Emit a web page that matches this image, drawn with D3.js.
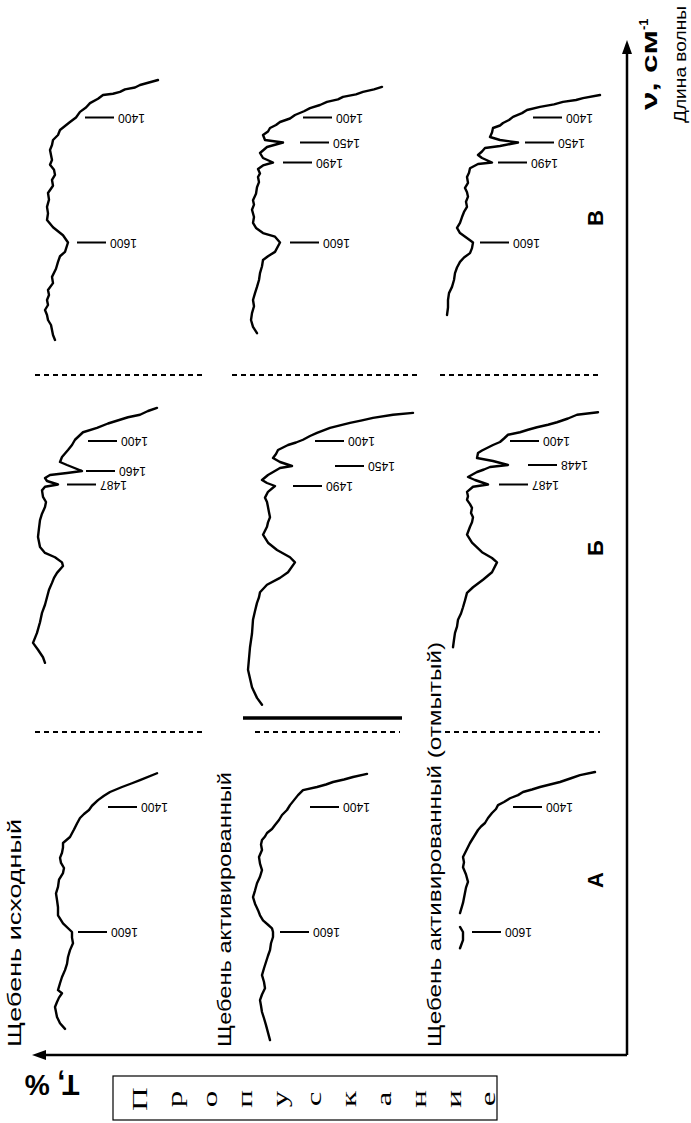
<!DOCTYPE html>
<html>
<head>
<meta charset="utf-8">
<script src="https://cdn.jsdelivr.net/npm/d3@7"></script>
<style>
  body { margin: 0; background: #fff; }
  svg { display: block; }
</style>
</head>
<body>
<svg id="chart" width="691" height="1123"></svg>
<script>
// IR transmission spectra, pairs of [wavenumber cm-1, T %]
const rowLabels = ["В", "Б", "А"];
const sampleLabels = ["Щебень исходный", "Щебень активированный", "Щебень активированный (отмытый)"];
const boxLetters = "Пропускание".split("");

const specV_raw = [[1340,11],[1348,20],[1352,22.5],[1355,27.5],[1359,30],[1362,33.5],[1364,38.5],[1370,41],[1377,45],[1384,47],[1391,50],[1400,52],[1409,55],[1417,57.5],[1425,60],[1435,61],[1445,63.5],[1455,64],[1465,65],[1475,64.5],[1485,64],[1493,65],[1500,63],[1507,62.5],[1514,64],[1522,63.5],[1532,66],[1541,65.5],[1551,66.5],[1560,66],[1569,66.5],[1579,63.5],[1590,58.5],[1600,56],[1615,57.5],[1622,60],[1631,61],[1642,62],[1655,64],[1665,63.5],[1676,66],[1684,65.5],[1692,66.5],[1700,66],[1708,67.5],[1716,66.5],[1724,66],[1732,64.5],[1740,64],[1748,63.5],[1756,62.5]];
const specV_act = [[1351,24],[1355,28],[1359,33.5],[1363,37],[1367,43.5],[1371,46],[1375,51.5],[1380,55],[1385,60],[1390,63],[1396,67.5],[1402,70],[1409,75],[1415,77],[1421,80],[1428,81],[1435,83.5],[1445,82.5],[1450,73.5],[1459,81.5],[1471,85],[1481,83.5],[1490,78.5],[1494,83.5],[1499,86],[1505,85],[1510,86],[1517,85.5],[1524,86.5],[1533,87],[1542,88.5],[1548,88],[1555,89],[1565,88],[1573,88.5],[1580,87],[1587,83.5],[1592,77.5],[1600,75],[1615,77.5],[1622,81],[1628,83.5],[1638,84],[1649,85],[1660,85.5],[1671,86.5],[1681,87.5],[1692,88.5],[1702,88],[1713,89],[1724,89.5],[1735,88.5],[1745,86.5]];
const specV_wash = [[1364,10],[1369,18.5],[1372,22],[1375,28.5],[1379,33],[1383,40],[1388,46.5],[1393,49],[1399,53.5],[1405,55.5],[1411,58.5],[1416,60],[1421,63.5],[1430,64],[1439,65],[1445,60],[1450,51],[1457,60],[1461,67.5],[1468,69],[1475,71],[1481,69],[1490,64],[1492,71],[1498,75],[1504,75.5],[1510,76.5],[1518,76],[1525,77.5],[1531,76.5],[1537,76],[1544,77],[1551,76.5],[1558,78],[1565,79],[1573,80],[1580,81.5],[1587,80],[1597,75],[1600,73.5],[1609,74],[1617,75],[1624,78],[1631,80],[1640,81.5],[1649,82.5],[1660,83],[1671,84],[1681,85.5],[1692,86],[1704,86],[1716,86.5]];

const specB_raw = [[1347,11.5],[1352,16],[1358,20],[1362,26],[1366,30],[1372,36],[1379,41.5],[1386,48.5],[1392,50.5],[1398,52.5],[1408,54],[1418,56],[1425,57.5],[1432,59],[1442,60],[1448,56.5],[1460,49],[1464,56.5],[1468,65],[1474,67.5],[1480,66.5],[1487,61],[1491,67.5],[1496,69],[1505,68.5],[1512,67],[1519,67.5],[1528,69],[1537,70],[1548,70.5],[1560,71],[1567,70.5],[1574,70],[1582,67.5],[1588,62.5],[1595,59],[1600,58.5],[1611,61.5],[1619,63],[1627,64],[1638,65.5],[1650,66.5],[1662,67.5],[1675,69],[1690,70],[1707,71.5],[1715,72.5],[1723,73.5],[1734,71],[1746,68.5],[1755,67.5]];
const specB_act = [[1355,8.5],[1358,18.5],[1363,28.5],[1367,34],[1371,40],[1375,45],[1379,50],[1387,56.5],[1392,60],[1398,63.5],[1403,67],[1408,71],[1413,73.5],[1418,76],[1426,77],[1434,78.5],[1442,75],[1450,69],[1454,75],[1461,78],[1468,81],[1478,84],[1484,81.5],[1490,77.5],[1498,81],[1506,82.5],[1512,81.5],[1519,81],[1526,80.5],[1533,80],[1540,81],[1546,81.5],[1557,83.5],[1568,81],[1578,76.5],[1588,70],[1595,67.5],[1610,71],[1619,75],[1630,81.5],[1642,85],[1650,85.5],[1659,86.5],[1672,87.5],[1686,88.5],[1708,89],[1730,90],[1748,90.5],[1766,91],[1780,90],[1794,89],[1811,86.5],[1822,84]];
const specB_wash = [[1354,11],[1358,21.5],[1364,26],[1370,31.5],[1374,36],[1378,41.5],[1382,46],[1386,50],[1390,56],[1396,58],[1402,60],[1408,63.5],[1414,66.5],[1419,69],[1424,71],[1434,71.5],[1440,63.5],[1448,56],[1452,65],[1457,68],[1462,71.5],[1472,76],[1478,72.5],[1487,66],[1491,73.5],[1498,76.5],[1504,76],[1509,76.5],[1515,75],[1520,74],[1527,74.5],[1533,73.5],[1540,74],[1546,75],[1557,76.5],[1568,74],[1581,69],[1589,64],[1595,61.5],[1610,64],[1622,68.5],[1634,73.5],[1643,76.5],[1655,77.5],[1666,78.5],[1676,79.5],[1686,81],[1697,81.5],[1707,82.5],[1718,83],[1730,83.5]];

const specA_raw = [[1346,11.5],[1357,20],[1362,24],[1368,29],[1376,35],[1382,38],[1389,41],[1398,44],[1406,45.5],[1414,48],[1422,50],[1433,51.5],[1445,53],[1460,55],[1472,58.5],[1481,58.5],[1491,59],[1498,60],[1505,59.5],[1512,58],[1519,58.5],[1528,60.5],[1538,61],[1547,62],[1556,61.5],[1566,61],[1577,61],[1588,58.5],[1600,54],[1609,54],[1618,53.5],[1629,55],[1640,56],[1651,56.5],[1661,57.5],[1672,59],[1682,60],[1693,61],[1698,59],[1705,60.5],[1712,61.5],[1720,62.5],[1728,62],[1736,61.5],[1746,60],[1755,57.5]];
const specA_act = [[1347,31.5],[1352,38.5],[1356,43],[1360,48.5],[1364,52],[1368,56.5],[1373,63.5],[1381,66],[1389,68],[1397,70],[1406,71.5],[1416,74],[1426,75.5],[1436,77.5],[1444,79],[1452,81.5],[1459,82.5],[1466,84],[1475,84.5],[1486,84],[1497,85.5],[1506,85],[1515,84],[1524,85],[1533,86.5],[1543,87.5],[1552,88.5],[1561,87.5],[1570,86],[1577,85],[1584,83.5],[1590,81],[1595,79],[1600,78.5],[1608,78.5],[1618,79.5],[1629,80],[1638,81],[1648,82],[1658,83],[1669,84],[1680,83],[1690,82.5],[1700,84],[1709,85],[1718,84.5],[1728,84],[1738,83],[1749,82],[1761,81],[1773,80]];
const specA_wash = [[1344,12.5],[1349,20],[1354,24.5],[1360,30],[1364,35],[1368,40],[1372,44],[1376,48.5],[1381,51],[1386,55],[1392,58],[1397,61],[1404,62],[1412,64],[1422,66],[1432,67.5],[1439,69.5],[1446,71],[1459,73],[1472,75],[1484,76.5],[1497,78.5],[1504,78],[1511,78.5],[1521,77],[1531,76],[1539,77],[1546,77.5],[1560,78.5],[1574,80],null,[1593,80],[1600,78.5],[1613,78.5],[1626,80]];

// band marks: [wavenumber, T level where the pointer starts]
const marksV_raw = [[1400,47.5],[1600,51.5]];
const marksV_act = [[1400,63.5],[1450,65],[1490,73.5],[1600,70]];
const marksV_wash = [[1400,43.5],[1450,47.5],[1490,61],[1600,70]];
const marksB_raw = [[1400,46],[1460,47],[1487,56.5]];
const marksB_act = [[1400,57.5],[1450,47.5],[1490,68.5]];
const marksB_wash = [[1400,55],[1448,46],[1487,60.5]];
const marksA_raw = [[1400,36],[1600,51]];
const marksA_act = [[1400,60],[1600,75]];
const marksA_wash = [[1400,53.5],[1600,74]];

// chart paper uses a piecewise wavenumber scale
const wnStops = [1300, 1400, 1490, 1600, 1900];

// ---------- layout ----------
const ink = "#000";
const sans = "'Liberation Sans', Arial, sans-serif";
const serif = "'Liberation Serif', 'Times New Roman', serif";
const wnOffsets = [-62.5, 0, 45, 125, 312.5];
const rowAnchor = { "В": 117.5, "Б": 441, "А": 807 };
const colZero = [180, 430, 620];
const pxPerT = 2;

const svg = d3.select("#chart");

function yScaleFor(row) {
  const y0 = rowAnchor[row];
  return d3.scaleLinear().domain(wnStops).range(wnOffsets.map(o => y0 + o));
}
function xScaleFor(col) {
  const x0 = colZero[col];
  return d3.scaleLinear().domain([0, 100]).range([x0, x0 - 100 * pxPerT]);
}

const panels = [
  { row: "В", col: 0, spectrum: specV_raw, marks: marksV_raw },
  { row: "В", col: 1, spectrum: specV_act, marks: marksV_act },
  { row: "В", col: 2, spectrum: specV_wash, marks: marksV_wash },
  { row: "Б", col: 0, spectrum: specB_raw, marks: marksB_raw },
  { row: "Б", col: 1, spectrum: specB_act, marks: marksB_act },
  { row: "Б", col: 2, spectrum: specB_wash, marks: marksB_wash },
  { row: "А", col: 0, spectrum: specA_raw, marks: marksA_raw },
  { row: "А", col: 1, spectrum: specA_act, marks: marksA_act },
  { row: "А", col: 2, spectrum: specA_wash, marks: marksA_wash }
];

const gSpec = svg.append("g");
panels.forEach(p => {
  const x = xScaleFor(p.col), y = yScaleFor(p.row);
  const line = d3.line()
    .defined(d => d !== null)
    .x(d => x(d[1]))
    .y(d => y(d[0]));
  gSpec.append("path")
    .datum(p.spectrum)
    .attr("d", line)
    .attr("fill", "none")
    .attr("stroke", ink)
    .attr("stroke-width", 2.4)
    .attr("stroke-linejoin", "round")
    .attr("stroke-linecap", "round");

  p.marks.forEach(([wn, t]) => {
    const yy = y(wn), xs = x(t);
    gSpec.append("line")
      .attr("x1", xs).attr("x2", xs + 29)
      .attr("y1", yy).attr("y2", yy)
      .attr("stroke", ink).attr("stroke-width", 2);
    gSpec.append("text")
      .attr("transform", `translate(${xs + 33},${yy}) rotate(180)`)
      .attr("text-anchor", "end")
      .attr("dominant-baseline", "central")
      .attr("font-family", sans)
      .attr("font-size", 12)
      .attr("textLength", 27)
      .attr("lengthAdjust", "spacingAndGlyphs")
      .text(wn);
  });
});

// separators between the band regions
const dash = svg.append("g")
  .attr("stroke", ink).attr("stroke-width", 1.8).attr("stroke-dasharray", "5,4");
[[35, 205, 375], [232, 420, 375], [440, 600, 375],
 [35, 205, 732], [255, 400, 732], [445, 600, 732]].forEach(([x1, x2, yy]) => {
  dash.append("line").attr("x1", x1).attr("x2", x2).attr("y1", yy).attr("y2", yy);
});
svg.append("line")
  .attr("x1", 243).attr("x2", 402).attr("y1", 718).attr("y2", 718)
  .attr("stroke", ink).attr("stroke-width", 3.5);

// axes with arrows
const axisY = 1055, axisX = 627;
svg.append("line").attr("x1", 40).attr("x2", axisX).attr("y1", axisY).attr("y2", axisY)
  .attr("stroke", ink).attr("stroke-width", 2.5);
svg.append("line").attr("x1", axisX).attr("x2", axisX).attr("y1", axisY).attr("y2", 50)
  .attr("stroke", ink).attr("stroke-width", 2.5);
svg.append("path").attr("d", `M32,${axisY} L46,${axisY - 5} L46,${axisY + 5} Z`).attr("fill", ink);
svg.append("path").attr("d", `M${axisX},40 L${axisX - 5},54 L${axisX + 5},54 Z`).attr("fill", ink);

// sample names
const sampleX = [21, 231, 441];
const sampleLen = [228, 275, 405];
sampleLabels.forEach((s, i) => {
  svg.append("text")
    .attr("transform", `translate(${sampleX[i]},1047) rotate(-90)`)
    .attr("font-family", sans)
    .attr("font-size", 18)
    .attr("textLength", sampleLen[i])
    .attr("lengthAdjust", "spacingAndGlyphs")
    .text(s);
});

// region letters
const rowLetterY = { "В": 218, "Б": 548, "А": 880 };
rowLabels.forEach(r => {
  svg.append("text")
    .attr("transform", `translate(595,${rowLetterY[r]}) rotate(-90)`)
    .attr("text-anchor", "middle")
    .attr("dominant-baseline", "central")
    .attr("font-family", sans)
    .attr("font-weight", "bold")
    .attr("font-size", 22)
    .text(r);
});

// wavenumber axis title
const nuTitle = svg.append("text")
  .attr("transform", `translate(657,110) rotate(-90)`)
  .attr("font-family", sans)
  .attr("font-weight", "bold")
  .attr("font-size", 22);
nuTitle.append("tspan").attr("textLength", 80).attr("lengthAdjust", "spacingAndGlyphs").text("ν, см");
nuTitle.append("tspan").attr("dy", -9).attr("font-size", 13).text("-1");
svg.append("text")
  .attr("transform", `translate(686,123) rotate(-90)`)
  .attr("font-family", sans)
  .attr("font-size", 17)
  .attr("textLength", 117)
  .attr("lengthAdjust", "spacingAndGlyphs")
  .text("Длина волны");

// transmission axis title
svg.append("text")
  .attr("transform", `translate(52,1085) rotate(180)`)
  .attr("text-anchor", "middle")
  .attr("dominant-baseline", "central")
  .attr("font-family", sans)
  .attr("font-weight", "bold")
  .attr("font-size", 30)
  .attr("textLength", 55)
  .attr("lengthAdjust", "spacingAndGlyphs")
  .text("T, %");

svg.append("rect")
  .attr("x", 113).attr("y", 1076).attr("width", 384).attr("height", 44)
  .attr("fill", "none").attr("stroke", ink).attr("stroke-width", 1.2);
boxLetters.forEach((ch, i) => {
  svg.append("text")
    .attr("transform", `translate(${140 + i * 34.8},1099) rotate(-90) scale(1.5,1)`)
    .attr("text-anchor", "middle")
    .attr("dominant-baseline", "central")
    .attr("font-family", serif)
    .attr("font-size", 22)
    .text(ch);
});
</script>
</body>
</html>
